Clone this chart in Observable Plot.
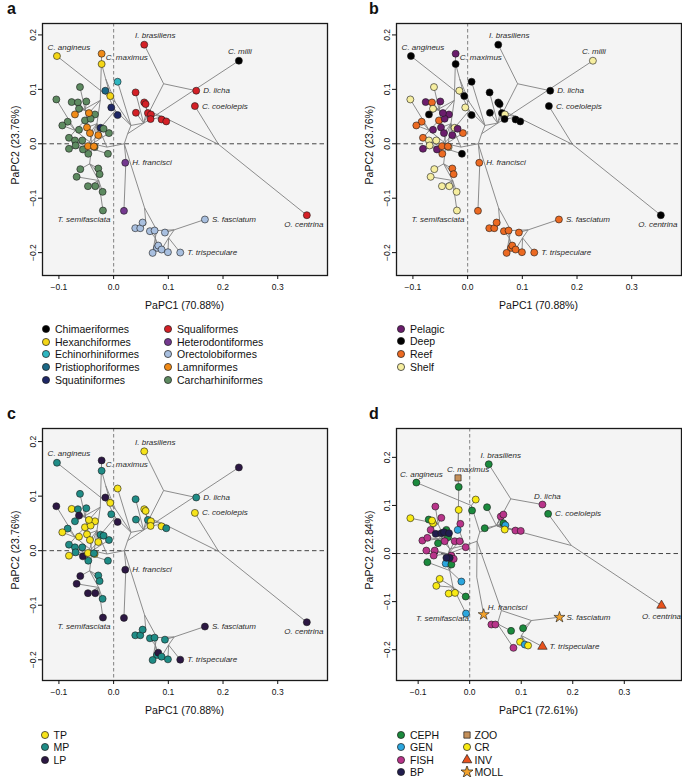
<!DOCTYPE html>
<html><head><meta charset="utf-8">
<script src="https://cdn.jsdelivr.net/npm/d3@7"></script>
<script src="https://cdn.jsdelivr.net/npm/@observablehq/plot@0.6"></script>
<style>
body{margin:0;background:#fff;}
#root{position:relative;width:682px;height:777px;font-family:"Liberation Sans",Arial,Helvetica,sans-serif;color:#111;overflow:hidden;}
.letter{position:absolute;font-weight:bold;font-size:16px;line-height:16px;}
.xt{position:absolute;font-size:10.5px;transform:translate(-50%,-50%);white-space:nowrap;}
.yt{position:absolute;font-size:10.5px;transform:translate(-50%,-50%) rotate(-90deg);white-space:nowrap;}
.leg{position:absolute;font-size:10.5px;white-space:nowrap;line-height:12px;transform:translateY(-50%);}
.sw{position:absolute;}
</style></head><body><div id="root"></div><script>
// ---------- categories ----------
const orders = ["Chimaeriformes","Hexanchiformes","Echinorhiniformes","Pristiophoriformes","Squatiniformes","Squaliformes","Heterodontiformes","Orectolobiformes","Lamniformes","Carcharhiniformes"];
const orderColors = ["#000000","#f4d616","#2fb6c0","#1b6886","#1e2766","#d42026","#74398f","#a8bfdf","#f08a17","#5d8a60"];
const habitats = ["Pelagic","Deep","Reef","Shelf"];
const habitatColors = ["#6a1d6c","#000000","#ec6a22","#f6eea0"];
const positions = ["TP","MP","LP"];
const positionColors = ["#f6e31a","#1f8c86","#2c1743"];
const diets = ["CEPH","GEN","FISH","BP","ZOO","CR","INV","MOLL"];
const dietColors = ["#1b8a3d","#2ba6de","#b8348a","#211d4e","#c4905a","#f8ea14","#e8521d","#f3a22b"];
const dietSymbols = ["circle","circle","circle","circle","square","circle","triangle","star"];
const xTicks = [-0.1, 0, 0.1, 0.2, 0.3];
const yTicks = [-0.2, -0.1, 0, 0.1, 0.2];
const titlesABC = ["PaPC1 (70.88%)", "PaPC2 (23.76%)"];
const titlesD = ["PaPC1 (72.61%)", "PaPC2 (22.84%)"];

// ---------- panels a-c : tree nodes [id, PC1, PC2, parent] ----------
const abcNodes = [
["R",0.0256,0.0184,null],["N_sqm",0.0317,0.0337,"R"],["N_hex",0.0030,0.0766,"N_sqm"],
["N_hex2",-0.0146,0.1195,"N_hex"],["N_sqt",0.0030,0.0613,"N_sqm"],["N_sq",0.0548,0.0380,"N_sqm"],
["N_dal",0.0914,0.1103,"N_sq"],["N_sq2",0.0609,0.0613,"N_sq"],["N_sq3",0.0914,0.0490,"N_sq2"],
["N_ox",0.1919,-0.0012,"N_sq3"],["N_gal",0.0195,0.0,"R"],["N_het",0.0225,-0.0294,"N_gal"],
["N_ore",0.0566,-0.1177,"N_gal"],["N_o2",0.0591,-0.1483,"N_ore"],["N_o3",0.0792,-0.1594,"N_ore"],
["N_o4",0.1108,-0.1581,"N_o3"],["N_o6",0.1005,-0.1729,"N_o4"],["N_o5",0.0761,-0.1729,"N_o3"],
["N_gal2",-0.0122,-0.0061,"N_gal"],["N_lam",-0.0305,0.0368,"N_gal2"],["N_lam1",-0.0244,0.0797,"N_lam"],
["N_car",-0.0396,0.0,"N_gal2"],["N_car1",-0.0518,0.0613,"N_car"],["N_car2",-0.0700,0.0245,"N_car"],
["N_car3",-0.0487,-0.0061,"N_car"],["N_car4",-0.0438,-0.0368,"N_car"],["N_car5",-0.0274,-0.0674,"N_car4"]
];
// tips [label, PC1, PC2, order, habitat, position, parent]
const abcTips = [
["C. angineus",-0.1036,0.1612,"Hexanchiformes","Deep","MP","N_hex"],
["C. maximus",-0.0219,0.1655,"Lamniformes","Pelagic","LP","N_lam1"],
["",-0.0219,0.1465,"Hexanchiformes","Deep","MP","N_hex2"],
["I. brasiliens",0.0560,0.1821,"Squaliformes","Deep","TP","N_dal"],
["C. milli",0.2290,0.1526,"Chimaeriformes","Shelf","LP","R"],
["D. licha",0.1510,0.0975,"Squaliformes","Deep","MP","N_dal"],
["C. coelolepis",0.1486,0.0693,"Squaliformes","Deep","TP","N_ox"],
["O. centrina",0.3532,-0.1312,"Squaliformes","Deep","LP","N_ox"],
["H. francisci",0.0213,-0.0349,"Heterodontiformes","Reef","LP","N_het"],
["",0.0189,-0.1232,"Heterodontiformes","Reef","LP","N_het"],
["T. semifasciata",-0.0195,-0.1226,"Carcharhiniformes","Shelf","LP","N_car5"],
["S. fasciatum",0.1669,-0.1391,"Orectolobiformes","Reef","LP","N_o4"],
["T. trispeculare",0.1218,-0.1998,"Orectolobiformes","Reef","LP","N_o6"],
["",0.0073,0.1140,"Echinorhiniformes","Deep","TP","N_sqm"],
["",-0.0152,0.0975,"Pristiophoriformes","Shelf","LP","N_sqt"],
["",-0.0061,0.0877,"Hexanchiformes","Deep","TP","N_hex2"],
["",-0.0043,0.0668,"Squatiniformes","Shelf","MP","N_sqt"],
["",0.0073,0.0527,"Squatiniformes","Deep","LP","N_sqt"],
["",-0.0238,0.0294,"Squatiniformes","Shelf","MP","N_sqt"],
["",0.0402,0.0944,"Squaliformes","Deep","MP","N_sq"],
["",0.0560,0.0760,"Squaliformes","Deep","TP","N_sq2"],
["",0.0585,0.0729,"Squaliformes","Deep","TP","N_sq2"],
["",0.0408,0.0570,"Squaliformes","Deep","MP","N_sq"],
["",0.0627,0.0564,"Squaliformes","Deep","MP","N_sq2"],
["",0.0682,0.0539,"Squaliformes","Shelf","TP","N_sq3"],
["",0.0676,0.0454,"Squaliformes","Deep","TP","N_sq3"],
["",0.0877,0.0447,"Squaliformes","Deep","TP","N_sq3"],
["",0.0962,0.0411,"Squaliformes","Deep","MP","N_sq3"],
["",0.0396,-0.1551,"Orectolobiformes","Reef","MP","N_o2"],
["",0.0487,-0.1551,"Orectolobiformes","Reef","MP","N_o2"],
["",0.0530,-0.1447,"Orectolobiformes","Reef","MP","N_o2"],
["",0.0664,-0.1606,"Orectolobiformes","Reef","MP","N_o5"],
["",0.0749,-0.1594,"Orectolobiformes","Reef","MP","N_o5"],
["",0.0938,-0.1631,"Orectolobiformes","Reef","MP","N_o4"],
["",0.0792,-0.1913,"Orectolobiformes","Reef","MP","N_o5"],
["",0.0816,-0.1870,"Orectolobiformes","Reef","LP","N_o5"],
["",0.0877,-0.1943,"Orectolobiformes","Reef","MP","N_o6"],
["",0.0713,-0.2005,"Orectolobiformes","Reef","MP","N_o5"],
["",0.0993,-0.1992,"Orectolobiformes","Reef","MP","N_o6"],
["",-0.0615,0.1042,"Carcharhiniformes","Shelf","MP","N_car1"],
["",-0.1047,0.0815,"Carcharhiniformes","Shelf","LP","N_car2"],
["",-0.0767,0.0766,"Carcharhiniformes","Pelagic","TP","N_car1"],
["",-0.0652,0.0760,"Carcharhiniformes","Reef","MP","N_car1"],
["",-0.0499,0.0778,"Carcharhiniformes","Pelagic","MP","N_car1"],
["",-0.0633,0.0644,"Carcharhiniformes","Shelf","LP","N_car1"],
["",-0.0341,0.0539,"Carcharhiniformes","Pelagic","TP","N_car1"],
["",-0.0840,0.0405,"Carcharhiniformes","Reef","MP","N_car2"],
["",-0.0524,0.0429,"Carcharhiniformes","Reef","TP","N_car2"],
["",-0.0420,0.0460,"Carcharhiniformes","Pelagic","TP","N_car1"],
["",-0.0633,0.0257,"Carcharhiniformes","Pelagic","TP","N_car2"],
["",-0.0085,0.0196,"Carcharhiniformes","Reef","MP","N_car3"],
["",-0.0816,0.0110,"Carcharhiniformes","Reef","MP","N_car2"],
["",-0.0707,0.0061,"Carcharhiniformes","Shelf","MP","N_car3"],
["",-0.0573,0.0061,"Carcharhiniformes","Shelf","MP","N_car3"],
["",-0.0816,-0.0092,"Carcharhiniformes","Pelagic","TP","N_car3"],
["",-0.0695,-0.0031,"Carcharhiniformes","Shelf","MP","N_car3"],
["",-0.0104,-0.0184,"Carcharhiniformes","Deep","MP","N_car3"],
["",-0.0463,-0.0184,"Carcharhiniformes","Reef","MP","N_car3"],
["",-0.0938,0.0337,"Carcharhiniformes","Reef","TP","N_car2"],
["",-0.0561,-0.0104,"Carcharhiniformes","Pelagic","LP","N_car3"],
["",-0.0347,-0.0061,"Carcharhiniformes","Shelf","TP","N_car3"],
["",-0.0183,0.0276,"Carcharhiniformes","Pelagic","MP","N_car3"],
["",-0.0609,-0.0466,"Carcharhiniformes","Shelf","LP","N_car4"],
["",-0.0676,-0.0607,"Carcharhiniformes","Shelf","LP","N_car5"],
["",-0.0280,-0.0454,"Carcharhiniformes","Reef","MP","N_car4"],
["",-0.0256,-0.0558,"Carcharhiniformes","Reef","MP","N_car4"],
["",-0.0469,-0.0779,"Carcharhiniformes","Shelf","LP","N_car5"],
["",-0.0335,-0.0779,"Carcharhiniformes","Shelf","LP","N_car5"],
["",-0.0201,-0.0883,"Carcharhiniformes","Shelf","MP","N_car5"],
["",-0.0707,0.0539,"Lamniformes","Deep","MP","N_lam1"],
["",-0.0451,0.0564,"Lamniformes","Pelagic","TP","N_lam1"],
["",-0.0487,0.0300,"Lamniformes","Pelagic","TP","N_lam"],
["",-0.0433,0.0196,"Lamniformes","Pelagic","TP","N_lam"],
["",-0.0280,0.0159,"Lamniformes","Pelagic","TP","N_lam"],
["",-0.0469,-0.0043,"Lamniformes","Reef","TP","N_lam"],
["",-0.0360,-0.0049,"Lamniformes","Reef","MP","N_lam"]
];

// ---------- panel d ----------
const dNodes = [
["Rd",0.0143,0.0256,null],["Nd_het",0.0137,-0.0492,"Rd"],["Nd_ore",0.0616,-0.1185,"Rd"],
["Nd_o1",0.0538,-0.1462,"Nd_ore"],["Nd_o2",0.1198,-0.1393,"Nd_ore"],["Nd_o3",0.1004,-0.1705,"Nd_o2"],
["Nd_sqm",0.0195,0.0444,"Rd"],["Nd_sq",0.0518,0.0582,"Nd_sqm"],["Nd_dal",0.0797,0.1137,"Nd_sq"],
["Nd_ox",0.1975,0.0166,"Nd_sq"],["Nd_hex",0.0033,0.0998,"Nd_sqm"],["Nd_gal2",-0.0096,0.0166,"Rd"],
["Nd_lam",-0.0226,0.0547,"Nd_gal2"],["Nd_lam1",-0.0213,0.1310,"Nd_lam"],["Nd_car",-0.0388,0.0097,"Nd_gal2"],
["Nd_c1",-0.0614,0.0617,"Nd_car"],["Nd_c2",-0.0550,0.0305,"Nd_car"],["Nd_c3",-0.0420,-0.0007,"Nd_car"],
["Nd_c4",-0.0388,-0.0353,"Nd_car"],["Nd_c5",-0.0323,-0.0700,"Nd_c4"]
];
// tips [label, PC1, PC2, diet, parent]
const dTips = [
["C. angineus",-0.1035,0.1476,"CEPH","Nd_hex"],
["C. maximus",-0.0226,0.1573,"ZOO","Nd_lam1"],
["I. brasiliens",0.0370,0.1857,"CEPH","Nd_dal"],
["D. licha",0.1412,0.1019,"FISH","Nd_dal"],
["C. coelolepis",0.1522,0.0825,"CEPH","Nd_ox"],
["O. centrina",0.3722,-0.1081,"INV","Nd_ox"],
["H. francisci",0.0272,-0.1268,"MOLL","Nd_het"],
["S. fasciatum",0.1742,-0.1324,"MOLL","Nd_o2"],
["T. trispeculare",0.1412,-0.1934,"INV","Nd_o3"],
["T. semifasciata",-0.0071,-0.1247,"GEN","Nd_c5"],
["",-0.0213,0.1386,"CEPH","Nd_lam1"],
["",0.0117,0.1123,"CR","Nd_hex"],
["",0.0046,0.0894,"CEPH","Nd_hex"],
["",-0.0213,0.0908,"CR","Nd_lam"],
["",0.0337,0.0963,"CEPH","Nd_sq"],
["",0.0603,0.0769,"FISH","Nd_sq"],
["",0.0654,0.0811,"FISH","Nd_sq"],
["",0.0654,0.0631,"CEPH","Nd_sq"],
["",0.0693,0.0589,"GEN","Nd_sq"],
["",0.0680,0.0499,"CR","Nd_sq"],
["",0.0887,0.0478,"FISH","Nd_sq"],
["",0.0991,0.0471,"FISH","Nd_sq"],
["",0.0292,0.0527,"CEPH","Nd_sq"],
["",-0.0181,0.0617,"FISH","Nd_lam"],
["",-0.0232,0.0492,"GEN","Nd_lam"],
["",-0.0077,-0.0894,"CEPH","Nd_c5"],
["",-0.0161,-0.0582,"GEN","Nd_c4"],
["",0.0421,-0.1476,"FISH","Nd_o1"],
["",0.0499,-0.1476,"FISH","Nd_o1"],
["",0.0803,-0.1608,"CEPH","Nd_o1"],
["",0.1036,-0.1552,"CEPH","Nd_o2"],
["",0.0978,-0.1836,"CR","Nd_o3"],
["",0.1069,-0.1892,"GEN","Nd_o3"],
["",0.1133,-0.1913,"CR","Nd_o3"],
["",0.0849,-0.1961,"FISH","Nd_o1"],
["",-0.0582,-0.0527,"CR","Nd_c5"],
["",-0.0647,-0.0672,"CR","Nd_c5"],
["",-0.0407,-0.0832,"CR","Nd_c5"],
["",-0.0284,-0.0818,"CR","Nd_c5"],
["",-0.0821,-0.0180,"CEPH","Nd_c4"],
["",-0.0465,-0.0208,"GEN","Nd_c4"],
["",-0.0355,-0.0229,"CEPH","Nd_c4"],
["",-0.1151,0.0735,"CR","Nd_c1"],
["",-0.0666,0.0977,"FISH","Nd_c1"],
["",-0.0795,0.0707,"CEPH","Nd_c1"],
["",-0.0711,0.0631,"CR","Nd_c1"],
["",-0.0731,0.0686,"CR","Nd_c1"],
["",-0.0550,0.0742,"FISH","Nd_c1"],
["",-0.0757,0.0492,"FISH","Nd_c1"],
["",-0.0918,0.0270,"FISH","Nd_c2"],
["",-0.0821,0.0326,"FISH","Nd_c2"],
["",-0.0452,0.0492,"CEPH","Nd_c2"],
["",-0.0420,0.0340,"CEPH","Nd_c2"],
["",-0.0485,0.0256,"FISH","Nd_c2"],
["",-0.0614,0.0215,"CEPH","Nd_c2"],
["",-0.0660,0.0409,"BP","Nd_c2"],
["",-0.0550,0.0423,"BP","Nd_c2"],
["",-0.0498,0.0444,"BP","Nd_c2"],
["",-0.0401,0.0423,"BP","Nd_c2"],
["",-0.0291,0.0256,"FISH","Nd_c3"],
["",-0.0194,0.0256,"FISH","Nd_c3"],
["",-0.0077,0.0132,"FISH","Nd_c3"],
["",-0.0841,0.0062,"FISH","Nd_c3"],
["",-0.0679,0.0062,"FISH","Nd_c3"],
["",-0.0698,-0.0042,"FISH","Nd_c3"],
["",-0.0355,-0.0042,"FISH","Nd_c3"],
["",-0.0310,-0.0111,"FISH","Nd_c3"],
["",-0.0388,-0.0090,"BP","Nd_c3"],
["",-0.0452,-0.0090,"BP","Nd_c3"]
];

// ---------- build ----------
const root = document.getElementById("root");
const fmt = d3.format(".1f");

function toTips(rows, keys) { return rows.map(r => Object.fromEntries(keys.map((k, i) => [k, r[i]]))); }
function buildEdges(nodes, tips) {
  const byId = new Map(nodes.map(n => [n[0], {x: n[1], y: n[2]}]));
  const e = [];
  nodes.forEach(n => { if (n[3]) { const p = byId.get(n[3]); e.push({x1: p.x, y1: p.y, x2: n[1], y2: n[2]}); } });
  tips.forEach(t => { const p = byId.get(t.parent); e.push({x1: p.x, y1: p.y, x2: t.x, y2: t.y}); });
  return e;
}

const labStyleABC = {
  "C. angineus": ["middle", 12, -9], "C. maximus": ["start", 4, 4], "I. brasiliens": ["middle", 11, -9],
  "C. milli": ["middle", 1, -9], "D. licha": ["start", 7, 0], "C. coelolepis": ["start", 7, 0],
  "H. francisci": ["start", 7, 0], "T. semifasciata": ["middle", -19, 9], "S. fasciatum": ["start", 7, 0],
  "O. centrina": ["middle", -3, 9], "T. trispeculare": ["start", 7, 0]
};
const labStyleD = {
  "C. angineus": ["middle", 5, -8], "C. maximus": ["middle", 10, -8], "I. brasiliens": ["middle", 12, -9],
  "D. licha": ["middle", 5, -8], "C. coelolepis": ["start", 7, 0], "H. francisci": ["start", 4, -7],
  "S. fasciatum": ["start", 7, 0], "O. centrina": ["middle", 0, 11], "T. semifasciata": ["end", 3, 5],
  "T. trispeculare": ["start", 7, 0]
};

function panel(cfg) {
  const labels = cfg.tips.filter(t => t.label && !(cfg.hide || []).includes(t.label)).map(t => {
    const s = cfg.labStyle[t.label];
    return Plot.text([t], {x: "x", y: "y", text: "label", textAnchor: s[0], dx: s[1], dy: s[2],
      fontSize: 8, fontStyle: "italic", fill: "#2a2a2a"});
  });
  const dotOpts = {x: "x", y: "y", r: 3.5, fill: cfg.fillKey, stroke: "#1a1a1a", strokeWidth: 0.6};
  if (cfg.symbolKey) dotOpts.symbol = cfg.symbolKey;
  const opts = {
    width: cfg.width, height: 315, marginLeft: 42, marginTop: 23, marginRight: cfg.mr, marginBottom: 40,
    x: {domain: cfg.xd}, y: {domain: cfg.yd},
    color: {domain: cfg.cd, range: cfg.cr},
    style: {fontFamily: '"Liberation Sans", Arial, Helvetica, sans-serif', background: "transparent", color: "#111", overflow: "visible"},
    marks: [
      Plot.frame({fill: "#f4f4f4", stroke: null}),
      Plot.ruleX([0], {stroke: "#8c8c8c", strokeDasharray: "3.5,2.5", strokeWidth: 1.1}),
      Plot.ruleY([0], {stroke: "#454545", strokeDasharray: "4.5,3", strokeWidth: 1}),
      Plot.link(cfg.edges, {x1: "x1", y1: "y1", x2: "x2", y2: "y2", stroke: "#808080", strokeWidth: 0.9}),
      Plot.dot(cfg.tips, dotOpts),
      ...labels,
      Plot.frame({stroke: "#1a1a1a", strokeWidth: 1.3}),
      Plot.axisX(xTicks, {tickFormat: fmt, tickSize: 4, tickPadding: 4, fontSize: 8.5, label: null}),
      Plot.axisY(yTicks, {tickFormat: fmt, tickSize: 4, tickPadding: 3, tickRotate: -90, fontSize: 8.5, label: null})
    ]
  };
  if (cfg.symbolKey) opts.symbol = {domain: diets, range: dietSymbols};
  const svg = Plot.plot(opts);
  svg.style.position = "absolute";
  svg.style.left = cfg.left + "px";
  svg.style.top = cfg.top + "px";
  root.appendChild(svg);
  const fl = cfg.left + 42, fr = cfg.left + cfg.width - cfg.mr, ft = cfg.top + 23, fb = cfg.top + 315 - 40;
  const xt = document.createElement("div"); xt.className = "xt"; xt.textContent = cfg.titles[0];
  xt.style.left = ((fl + fr) / 2) + "px"; xt.style.top = (fb + 30) + "px"; root.appendChild(xt);
  const yt = document.createElement("div"); yt.className = "yt"; yt.textContent = cfg.titles[1];
  yt.style.left = (cfg.left + 15) + "px"; yt.style.top = ((ft + fb) / 2 - 4) + "px"; root.appendChild(yt);
  const lt = document.createElement("div"); lt.className = "letter"; lt.textContent = cfg.letter;
  lt.style.left = (cfg.left + 7 + (cfg.left ? 8 : 0)) + "px"; lt.style.top = (cfg.top + 1) + "px"; root.appendChild(lt);
}

function legend(items, colors, symbols, cols, y0, dy) {
  items.forEach((it, i) => {
    const col = cols[Math.floor(i / cols.perCol)];
    const y = y0 + (i % cols.perCol) * dy;
    const kind = symbols ? symbols[i] : "circle";
    const sym = d3.symbol().type({circle: d3.symbolCircle, square: d3.symbolSquare, triangle: d3.symbolTriangle, star: d3.symbolStar}[kind]).size(kind === "star" ? 48 : 40);
    const s = document.createElementNS("http://www.w3.org/2000/svg", "svg");
    s.setAttribute("width", 12); s.setAttribute("height", 12); s.setAttribute("class", "sw");
    s.style.left = (col[0] - 6) + "px"; s.style.top = (y - 6) + "px";
    const p = document.createElementNS("http://www.w3.org/2000/svg", "path");
    p.setAttribute("d", sym()); p.setAttribute("transform", "translate(6,6)");
    p.setAttribute("fill", colors[i]); p.setAttribute("stroke", "#1a1a1a"); p.setAttribute("stroke-width", "0.7");
    s.appendChild(p); root.appendChild(s);
    const t = document.createElement("div"); t.className = "leg"; t.textContent = it;
    t.style.left = col[1] + "px"; t.style.top = y + "px"; root.appendChild(t);
  });
}

const tipsABC = toTips(abcTips, ["label", "x", "y", "order", "habitat", "position", "parent"]);
const edgesABC = buildEdges(abcNodes, tipsABC);
const tipsD = toTips(dTips, ["label", "x", "y", "diet", "parent"]);
const edgesD = buildEdges(dNodes, tipsD);

panel({letter: "a", left: 0, top: 0, width: 341, mr: 14, xd: [-0.130, 0.391], yd: [-0.242, 0.221], tips: tipsABC, edges: edgesABC,
  fillKey: "order", cd: orders, cr: orderColors, labStyle: labStyleABC, titles: titlesABC});
panel({letter: "b", left: 354, top: 0, width: 328, mr: 1, xd: [-0.130, 0.391], yd: [-0.242, 0.221], tips: tipsABC, edges: edgesABC,
  fillKey: "habitat", cd: habitats, cr: habitatColors, labStyle: labStyleABC, titles: titlesABC});
panel({letter: "c", left: 0, top: 405, width: 341, mr: 14, xd: [-0.130, 0.391], yd: [-0.238, 0.224], tips: tipsABC, edges: edgesABC,
  fillKey: "position", cd: positions, cr: positionColors, labStyle: labStyleABC, titles: titlesABC, hide: ["C. milli"]});
panel({letter: "d", left: 354, top: 405, width: 328, mr: 1, xd: [-0.142, 0.411], yd: [-0.264, 0.260], tips: tipsD, edges: edgesD,
  fillKey: "diet", symbolKey: "diet", cd: diets, cr: dietColors, labStyle: labStyleD, titles: titlesD});

legend(orders, orderColors, null, Object.assign([[46, 55], [168, 177]], {perCol: 5}), 329, 12.7);
legend(habitats, habitatColors, null, Object.assign([[401, 410]], {perCol: 4}), 328.5, 12.7);
legend(positions, positionColors, null, Object.assign([[44.5, 53.5]], {perCol: 3}), 734.5, 12.5);
legend(diets, dietColors, dietSymbols, Object.assign([[401, 410], [466.5, 474.5]], {perCol: 4}), 734.5, 12.6);
</script></body></html>
